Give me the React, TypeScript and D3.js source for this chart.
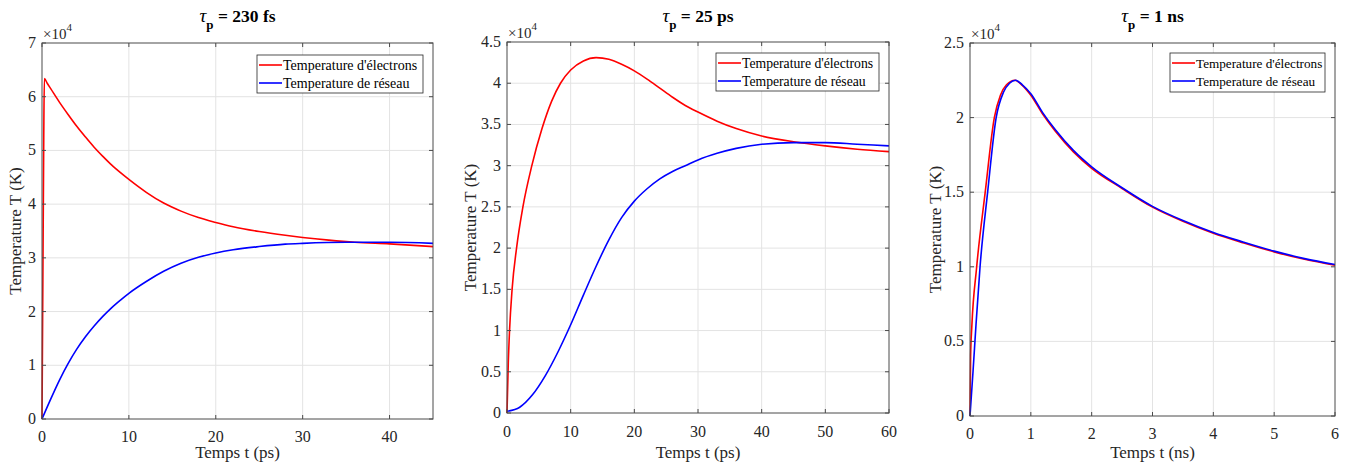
import React from 'react';
import * as d3 from 'd3';

const W = 1348;
const H = 466;

// tau_p = 230 fs : t in ps, T in units of 1e4 K
const elec230: [number, number][] = [
  [0, 0], [0.1, 2.6], [0.2, 5.2], [0.27, 6.34], [0.6, 6.25], [1, 6.15], [2, 5.9], [3, 5.67],
  [4, 5.45], [5, 5.25], [6, 5.06], [7, 4.89], [8, 4.73], [9, 4.59], [10, 4.46], [12, 4.22],
  [14, 4.02], [16, 3.87], [18, 3.75], [20, 3.66], [22, 3.58], [25, 3.49], [28, 3.42],
  [30, 3.38], [33, 3.33], [36, 3.29], [40, 3.26], [45, 3.21],
];
const latt230: [number, number][] = [
  [0, 0], [1, 0.37], [2, 0.72], [3, 1.03], [4, 1.3], [5, 1.53], [6, 1.73], [7, 1.91],
  [8, 2.07], [9, 2.21], [10, 2.34], [12, 2.56], [14, 2.75], [16, 2.9], [18, 3.01], [20, 3.09],
  [22, 3.15], [25, 3.21], [28, 3.255], [30, 3.27], [35, 3.29], [40, 3.29], [45, 3.27],
];

// tau_p = 25 ps
const elec25: [number, number][] = [
  [0, 0], [0.2, 0.6], [0.4, 1.0], [0.8, 1.5], [1.5, 2.0], [2.5, 2.5], [3.9, 3.0], [5.5, 3.45],
  [7, 3.78], [8.4, 4.0], [10, 4.16], [12, 4.27], [14, 4.31], [16, 4.29], [18, 4.23], [20, 4.15],
  [22, 4.05], [24, 3.94], [26, 3.83], [28, 3.73], [30, 3.65], [33, 3.54], [36, 3.45],
  [40, 3.36], [45, 3.29], [50, 3.24], [55, 3.2], [60, 3.17],
];
const latt25: [number, number][] = [
  [0, 0.02], [2, 0.07], [4, 0.22], [6, 0.45], [8, 0.74], [10, 1.07], [12, 1.43], [14, 1.78],
  [16, 2.1], [18, 2.37], [20, 2.57], [22, 2.72], [24, 2.84], [26, 2.93], [28, 3.0], [30, 3.07],
  [33, 3.15], [36, 3.21], [40, 3.26], [45, 3.28], [50, 3.28], [55, 3.26], [60, 3.24],
];

// tau_p = 1 ns : t in ns
const elec1: [number, number][] = [
  [0, 0], [0.01, 0.4], [0.03, 0.6], [0.11, 1.0], [0.25, 1.5], [0.4, 2.0], [0.5, 2.15],
  [0.6, 2.22], [0.74, 2.25], [0.85, 2.22], [1, 2.15], [1.2, 2.02], [1.4, 1.91], [1.7, 1.77],
  [2, 1.66], [2.5, 1.525], [3, 1.4], [3.5, 1.305], [4, 1.225], [4.5, 1.16], [5, 1.1],
  [5.5, 1.05], [6, 1.01],
];
const latt1: [number, number][] = [
  [0, 0], [0.05, 0.3], [0.1, 0.62], [0.165, 1.0], [0.29, 1.5], [0.43, 2.0], [0.55, 2.17],
  [0.65, 2.23], [0.75, 2.25], [0.86, 2.22], [1, 2.16], [1.2, 2.03], [1.4, 1.92], [1.7, 1.78],
  [2, 1.67], [2.5, 1.53], [3, 1.405], [3.5, 1.31], [4, 1.23], [4.5, 1.165], [5, 1.105],
  [5.5, 1.055], [6, 1.015],
];

const xTicks230 = [0, 10, 20, 30, 40];
const yTicks230 = [0, 1, 2, 3, 4, 5, 6, 7];
const xTicks25 = [0, 10, 20, 30, 40, 50, 60];
const yTicks25 = [0, 0.5, 1, 1.5, 2, 2.5, 3, 3.5, 4, 4.5];
const xTicks1 = [0, 1, 2, 3, 4, 5, 6];
const yTicks1 = [0, 0.5, 1, 1.5, 2, 2.5];

const legendLabels = ["Temperature d'électrons", 'Temperature de réseau'];
const colors = ['#ff0000', '#0000ff'];

const panels = [
  {
    title: '230 fs', xLabel: 'Temps t (ps)', xMax: 45, yMax: 7,
    xTicks: xTicks230, yTicks: yTicks230, elec: elec230, latt: latt230,
    left: 42, right: 433, top: 43, bottom: 419, yLabX: 16, xTickY: 442,
    legend: { x: 257, y: 55, w: 166, h: 38, fs: 14 },
  },
  {
    title: '25 ps', xLabel: 'Temps t (ps)', xMax: 60, yMax: 4.5,
    xTicks: xTicks25, yTicks: yTicks25, elec: elec25, latt: latt25,
    left: 507, right: 889, top: 42, bottom: 413, yLabX: 471, xTickY: 437,
    legend: { x: 716, y: 53, w: 163, h: 38, fs: 13.7 },
  },
  {
    title: '1 ns', xLabel: 'Temps t (ns)', xMax: 6, yMax: 2.5,
    xTicks: xTicks1, yTicks: yTicks1, elec: elec1, latt: latt1,
    left: 970, right: 1335, top: 43, bottom: 416, yLabX: 936, xTickY: 439,
    legend: { x: 1170, y: 53, w: 155, h: 39, fs: 13.2 },
  },
];

const FONT = "'Liberation Serif', 'Times New Roman', serif";
const AXIS = '#4a4a4a';
const GRID = '#e3e3e3';

function Panel({ p }: { p: (typeof panels)[number] }) {
  const x = d3.scaleLinear().domain([0, p.xMax]).range([p.left, p.right]);
  const y = d3.scaleLinear().domain([0, p.yMax]).range([p.bottom, p.top]);
  const line = d3.line<[number, number]>()
    .x(d => x(d[0]))
    .y(d => y(d[1]))
    .curve(d3.curveMonotoneX);
  const cx = (p.left + p.right) / 2;
  const cy = (p.top + p.bottom) / 2;
  const tl = 4;
  const lg = p.legend;

  return (
    <g fontFamily={FONT}>
      {/* grid */}
      {p.xTicks.filter(t => t > 0 && t < p.xMax).map(t => (
        <line key={'gx' + t} x1={x(t)} x2={x(t)} y1={p.top} y2={p.bottom} stroke={GRID} />
      ))}
      {p.yTicks.filter(t => t > 0 && t < p.yMax).map(t => (
        <line key={'gy' + t} x1={p.left} x2={p.right} y1={y(t)} y2={y(t)} stroke={GRID} />
      ))}

      {/* curves */}
      <path d={line(p.elec) || ''} fill="none" stroke={colors[0]} strokeWidth={1.6} />
      <path d={line(p.latt) || ''} fill="none" stroke={colors[1]} strokeWidth={1.6} />

      {/* frame + ticks */}
      <rect x={p.left} y={p.top} width={p.right - p.left} height={p.bottom - p.top}
        fill="none" stroke={AXIS} strokeWidth={1} />
      {p.xTicks.map(t => (
        <g key={'tx' + t}>
          <line x1={x(t)} x2={x(t)} y1={p.bottom} y2={p.bottom - tl} stroke={AXIS} />
          <line x1={x(t)} x2={x(t)} y1={p.top} y2={p.top + tl} stroke={AXIS} />
          <text x={x(t)} y={p.xTickY} textAnchor="middle" fontSize={16} fill="#262626">{t}</text>
        </g>
      ))}
      {p.yTicks.map(t => (
        <g key={'ty' + t}>
          <line x1={p.left} x2={p.left + tl} y1={y(t)} y2={y(t)} stroke={AXIS} />
          <line x1={p.right} x2={p.right - tl} y1={y(t)} y2={y(t)} stroke={AXIS} />
          <text x={p.left - 6} y={y(t) + 5} textAnchor="end" fontSize={16} fill="#262626">{t}</text>
        </g>
      ))}

      {/* x10^4 multiplier */}
      <text x={p.left + 1} y={p.top - 4} fontSize={15} fill="#262626">
        ×10<tspan dy={-8} fontSize={11}>4</tspan>
      </text>

      {/* title */}
      <text x={cx} y={22} textAnchor="middle" fontSize={17.5} fontWeight="bold" fill="#000">
        <tspan fontStyle="italic" fontWeight="normal" fontSize={19}>τ</tspan>
        <tspan dy={7} fontSize={13}>p</tspan>
        <tspan dy={-7}> = {p.title}</tspan>
      </text>

      {/* axis labels */}
      <text x={cx} y={458} textAnchor="middle" fontSize={17} fill="#262626">{p.xLabel}</text>
      <text transform={`translate(${p.yLabX},${cy}) rotate(-90)`} textAnchor="middle"
        dy={5} fontSize={17} fill="#262626">Temperature T (K)</text>

      {/* legend */}
      <rect x={lg.x} y={lg.y} width={lg.w} height={lg.h} fill="#fff" stroke="#262626" strokeWidth={0.8} />
      {legendLabels.map((l, i) => {
        const ly = lg.y + 10 + i * 18;
        return (
          <g key={l}>
            <line x1={lg.x + 2} x2={lg.x + 25} y1={ly} y2={ly} stroke={colors[i]} strokeWidth={1.6} />
            <text x={lg.x + 26} y={ly + 4.5} fontSize={lg.fs} fill="#000">{l}</text>
          </g>
        );
      })}
    </g>
  );
}

export default function App() {
  return (
    <svg width={W} height={H} style={{ position: 'absolute', left: 0, top: 0, background: '#fff' }}>
      <rect width={W} height={H} fill="#fff" />
      {panels.map(p => <Panel key={p.title} p={p} />)}
    </svg>
  );
}
